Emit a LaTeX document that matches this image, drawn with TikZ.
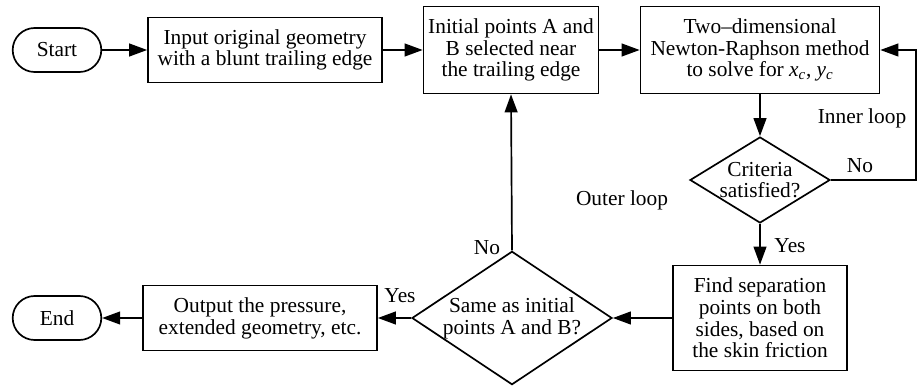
\documentclass[tikz,border=0pt]{standalone}
\usepackage{fontspec}
\setmainfont{Liberation Serif}
\usetikzlibrary{arrows.meta,positioning,shapes.geometric,shapes.misc}
\tikzset{
  >={Triangle[length=4.5mm,width=3.2mm]},
  every node/.style={font=\fontsize{15.2}{15.5}\selectfont},
  box/.style={draw,line width=1.2pt,align=center,inner sep=0pt,
    minimum width=#1},
  term/.style={draw,line width=1.2pt,rounded rectangle,
    minimum width=2.45cm,minimum height=1.1cm},
  test/.style={draw,line width=1.2pt,diamond,align=center,inner sep=0pt,
    shape aspect=#1},
  flow/.style={->,line width=1.2pt},
  tag/.style={inner sep=0pt},
}

\begin{document}
\begin{tikzpicture}
  \useasboundingbox (0,0) rectangle (22.925,-9.65);
  % top row
  \node[term] (start) at (1.425,-1.25) {Start};
  \node[box=5.85cm,minimum height=1.625cm] (input) at (6.625,-1.25)
    {Input original geometry\\with a blunt trailing edge};
  \node[box=4.375cm,minimum height=2.175cm] (init) at (12.775,-1.25)
    {Initial points A and\\B selected near\\the trailing edge};
  \node[box=5.975cm,minimum height=2.175cm] (newton) at (19,-1.25)
    {Two--dimensional\\Newton-Raphson method\\to solve for \textit{x\textsubscript{c}}, \textit{y\textsubscript{c}}};
  % inner loop
  \node[test=1.63,minimum width=3.5cm,minimum height=2.15cm] (crit) at (19,-4.5)
    {Criteria\\satisfied?};
  \node[box=4.35cm,minimum height=2.625cm] (find) at (19,-7.95)
    {Find separation\\points on both\\sides, based on\\the skin friction};
  % bottom row
  \node[test=1.5,minimum width=4.875cm,minimum height=3.25cm] (same) at (12.8,-7.95)
    {Same as initial\\points A and B?};
  \node[box=5.85cm,minimum height=1.625cm] (output) at (6.5,-7.95)
    {Output the pressure,\\extended geometry, etc.};
  \node[term] (end) at (1.425,-7.95) {End};
  \coordinate (rt) at (22.9,-1.25);

  \draw[flow] (start) -- (input);
  \draw[flow] (input) -- (init);
  \draw[flow] (init) -- (newton);
  \draw[flow] (newton) -- (crit);
  \draw[flow] (crit.east) -| (rt) -- (newton.east);
  \draw[flow] (crit) -- (find);
  \draw[flow] (find) -- (same);
  \draw[flow] (same.north) -- (init.south);
  \draw[flow] (same) -- (output);
  \draw[flow] (output) -- (end);

  % labels
  \node[tag] (inner) at (21.55,-2.95) {Inner loop};
  \node[tag] (outer) at (15.55,-5.0) {Outer loop};
  \node[tag] (critno) at (21.5,-4.15) {No};
  \node[tag] (crityes) at (19.75,-6.15) {Yes};
  \node[tag] (sameno) at (12.175,-6.2) {No};
  \node[tag] (sameyes) at (10.0,-7.4) {Yes};
\end{tikzpicture}
\end{document}
